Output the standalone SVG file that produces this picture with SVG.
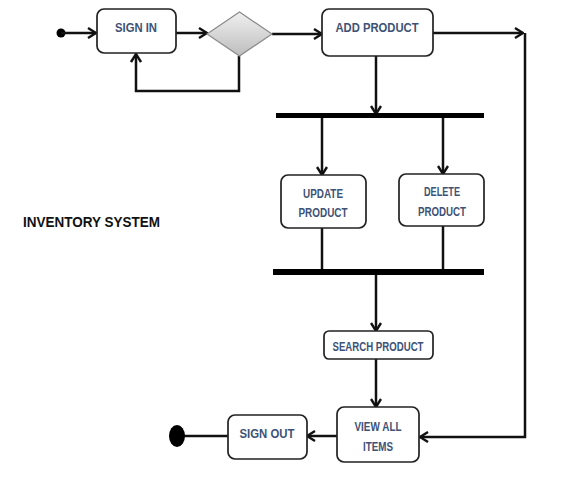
<svg xmlns="http://www.w3.org/2000/svg" width="564" height="497" viewBox="0 0 564 497">
<style>
.box{fill:#fff;stroke:#222;stroke-width:1.7}
.lbl{font-family:"Liberation Sans",Arial,sans-serif;font-weight:bold;font-size:13.5px;fill:#3d5275;text-anchor:middle}
.ln{fill:none;stroke:#111;stroke-width:2.5}
.bar{fill:#000}
</style>
<defs>
<marker id="ar" viewBox="0 0 12 12" refX="11" refY="6" markerWidth="12" markerHeight="12" markerUnits="userSpaceOnUse" orient="auto">
<polyline points="3,1 11,6 3,11" fill="none" stroke="#111" stroke-width="2.4"/>
</marker>
<linearGradient id="dg" x1="0" y1="0" x2="0" y2="1">
<stop offset="0" stop-color="#f0f0f0"/>
<stop offset="1" stop-color="#bdbdbd"/>
</linearGradient>
</defs>
<rect width="564" height="497" fill="#fff"/>
<text x="23" y="227" font-family="'Liberation Sans',Arial,sans-serif" font-weight="bold" font-size="15" fill="#111" textLength="137" lengthAdjust="spacingAndGlyphs">INVENTORY SYSTEM</text>
<g id="connectors">
<circle cx="61" cy="33" r="4.5" fill="#000"/>
<line class="ln" x1="61" y1="33" x2="96" y2="33" marker-end="url(#ar)"/>
<line class="ln" x1="176" y1="33" x2="207" y2="33" marker-end="url(#ar)"/>
<polyline class="ln" points="239,56 239,91 136,91 136,54" marker-end="url(#ar)"/>
<line class="ln" x1="272" y1="34" x2="322" y2="34" marker-end="url(#ar)"/>
<line class="ln" x1="433" y1="33" x2="523" y2="33" marker-end="url(#ar)"/>
<polyline class="ln" points="525,33 525,437 420,437" marker-end="url(#ar)"/>
<line class="ln" x1="376" y1="56" x2="376" y2="114" marker-end="url(#ar)"/>
<rect class="bar" x="276" y="113" width="208" height="5"/>
<line class="ln" x1="322" y1="118" x2="322" y2="175" marker-end="url(#ar)"/>
<line class="ln" x1="443" y1="118" x2="443" y2="174" marker-end="url(#ar)"/>
<line class="ln" x1="322" y1="228" x2="322" y2="270"/>
<line class="ln" x1="443" y1="226" x2="443" y2="270"/>
<rect class="bar" x="273" y="269" width="211" height="6"/>
<line class="ln" x1="376" y1="275" x2="376" y2="331" marker-end="url(#ar)"/>
<line class="ln" x1="376" y1="359" x2="376" y2="407" marker-end="url(#ar)"/>
<line class="ln" x1="337" y1="436" x2="307" y2="436" marker-end="url(#ar)"/>
<line class="ln" x1="228" y1="436" x2="180" y2="436"/>
<ellipse cx="177" cy="436" rx="8" ry="11" fill="#000"/>
</g>
<g id="signin">
<rect class="box" x="97" y="9" width="79" height="44" rx="7"/>
<text class="lbl" x="136" y="32" textLength="42" lengthAdjust="spacingAndGlyphs">SIGN IN</text>
</g>
<g id="decision">
<polygon points="207,34 239.5,12 272,34 239.5,56" fill="url(#dg)" stroke="#8a8a8a" stroke-width="1.2"/>
</g>
<g id="addproduct">
<rect class="box" x="322" y="9" width="111" height="47" rx="7"/>
<text class="lbl" x="377" y="32" textLength="83" lengthAdjust="spacingAndGlyphs">ADD PRODUCT</text>
</g>
<g id="update">
<rect class="box" x="281" y="175" width="85" height="53" rx="7"/>
<text class="lbl" x="323" y="198" font-size="12.5" textLength="40" lengthAdjust="spacingAndGlyphs">UPDATE</text>
<text class="lbl" x="323" y="217" font-size="12.5" textLength="49" lengthAdjust="spacingAndGlyphs">PRODUCT</text>
</g>
<g id="delete">
<rect class="box" x="399" y="174" width="85" height="52" rx="7"/>
<text class="lbl" x="442" y="196" font-size="12.5" textLength="36" lengthAdjust="spacingAndGlyphs">DELETE</text>
<text class="lbl" x="442" y="216" font-size="12.5" textLength="48" lengthAdjust="spacingAndGlyphs">PRODUCT</text>
</g>
<g id="search">
<rect class="box" x="324" y="331" width="109" height="28" rx="5"/>
<text class="lbl" x="378" y="351" font-size="12" textLength="91" lengthAdjust="spacingAndGlyphs">SEARCH PRODUCT</text>
</g>
<g id="viewall">
<rect class="box" x="337" y="407" width="82" height="55" rx="7"/>
<text class="lbl" x="378" y="431" font-size="13" textLength="47" lengthAdjust="spacingAndGlyphs">VIEW ALL</text>
<text class="lbl" x="378" y="451" font-size="13" textLength="30" lengthAdjust="spacingAndGlyphs">ITEMS</text>
</g>
<g id="signout">
<rect class="box" x="228" y="415" width="79" height="44" rx="7"/>
<text class="lbl" x="267" y="438" textLength="55" lengthAdjust="spacingAndGlyphs">SIGN OUT</text>
</g>
</svg>
